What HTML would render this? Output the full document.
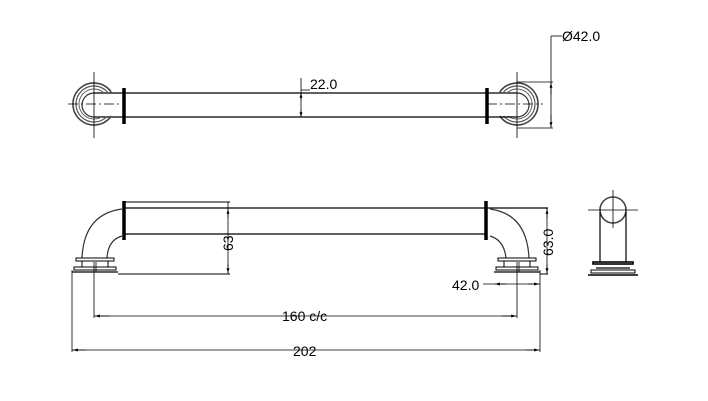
<!DOCTYPE html>
<html><head><style>body{margin:0;background:#fff}svg{display:block}text{font-family:"Liberation Sans",sans-serif;font-size:14px;fill:#000}</style></head>
<body>
<svg width="708" height="401" viewBox="0 0 708 401" xmlns="http://www.w3.org/2000/svg">
<defs><marker id="a" viewBox="0 0 10 10" refX="10" refY="5" markerWidth="8" markerHeight="6" orient="auto-start-reverse"><path d="M0,2 L10,5 L0,8z" fill="#000"/></marker></defs>
<g stroke="#000" fill="none" stroke-width="1.2">
<!-- TOP VIEW -->
<line x1="94" y1="93" x2="487" y2="93"/><line x1="94" y1="117" x2="487" y2="117"/>
<line x1="124" y1="88" x2="124" y2="124" stroke-width="3.5"/>
<line x1="487" y1="88" x2="487" y2="124" stroke-width="3.5"/>
<path d="M111.2,92 A21,21 0 1 0 111.2,116" stroke="#444" stroke-width="1.6"/>
<path d="M107.4,92 A18,18 0 1 0 107.4,116" stroke="#555"/>
<path d="M103,92 A15,15 0 1 0 103,116" stroke="#555" stroke-width="0.9"/>
<path d="M94,93 A11,11 0 0 0 94,117" stroke="#333"/>
<line x1="94" y1="72" x2="94" y2="138" stroke-width="0.8"/><line x1="68" y1="104" x2="124" y2="104" stroke-width="0.8" stroke-dasharray="10,3,2,3"/>
<path d="M499.8,92 A21,21 0 1 1 499.8,116" stroke="#444" stroke-width="1.6"/>
<path d="M503.6,92 A18,18 0 1 1 503.6,116" stroke="#555"/>
<path d="M508,92 A15,15 0 1 1 508,116" stroke="#555" stroke-width="0.9"/>
<path d="M517,93 A11,11 0 0 1 517,117" stroke="#333"/>
<line x1="487" y1="93" x2="517" y2="93"/><line x1="487" y1="117" x2="517" y2="117"/>
<line x1="517" y1="72" x2="517" y2="138" stroke-width="0.8"/><line x1="487" y1="104" x2="543" y2="104" stroke-width="0.8" stroke-dasharray="10,3,2,3"/>
<line x1="517" y1="82" x2="553" y2="82" stroke-width="0.8"/><line x1="517" y1="128" x2="553" y2="128" stroke-width="0.8"/>
<line x1="551" y1="36" x2="551" y2="128" stroke-width="0.8"/><line x1="551" y1="36" x2="562" y2="36" stroke-width="0.8"/>
<line x1="551" y1="95" x2="551" y2="83" stroke-width="0.8" marker-end="url(#a)"/><line x1="551" y1="115" x2="551" y2="127" stroke-width="0.8" marker-end="url(#a)"/>
<line x1="301" y1="78" x2="301" y2="117" stroke-width="0.8"/><line x1="301" y1="90" x2="310" y2="90" stroke-width="0.8"/>
<line x1="301" y1="100" x2="301" y2="93" marker-end="url(#a)" stroke-width="0.8"/><line x1="301" y1="110" x2="301" y2="117" marker-end="url(#a)" stroke-width="0.8"/>
<!-- FRONT VIEW -->
<line x1="124" y1="202" x2="230" y2="202" stroke-width="1"/>
<line x1="124" y1="208" x2="548" y2="208"/><line x1="124" y1="234" x2="487" y2="234"/>
<line x1="124" y1="201" x2="124" y2="240" stroke-width="3.5"/><line x1="486" y1="201" x2="486" y2="240" stroke-width="3.5"/>
<path d="M122,209 Q84,214 82,258" stroke="#333"/><path d="M122,236 Q108,240 107,258" stroke="#333"/>
<path d="M490,209 Q527,214 529,258" stroke="#333"/><path d="M490,236 Q504,240 506,258" stroke="#333"/>
<rect x="76" y="258" width="38" height="3" stroke-width="1"/><rect x="82" y="261" width="26" height="6" stroke-width="1"/><rect x="74" y="267" width="42" height="3" stroke-width="1"/><line x1="72" y1="272" x2="118" y2="272"/>
<rect x="498" y="258" width="38" height="3" stroke-width="1"/><rect x="504" y="261" width="26" height="6" stroke-width="1"/><rect x="496" y="267" width="42" height="3" stroke-width="1"/><line x1="494" y1="272" x2="540" y2="272"/>
<line x1="118" y1="274" x2="230" y2="274" stroke-width="1"/><line x1="540" y1="274" x2="548" y2="274" stroke-width="1"/>
<line x1="228" y1="202" x2="228" y2="274" stroke-width="0.8"/>
<line x1="228" y1="218" x2="228" y2="209" marker-end="url(#a)" stroke-width="0.8"/><line x1="228" y1="264" x2="228" y2="273" marker-end="url(#a)" stroke-width="0.8"/>
<line x1="547" y1="208" x2="547" y2="274" stroke-width="0.8"/>
<line x1="547" y1="218" x2="547" y2="209" marker-end="url(#a)" stroke-width="0.8"/><line x1="547" y1="264" x2="547" y2="273" marker-end="url(#a)" stroke-width="0.8"/>
<line x1="72" y1="270" x2="72" y2="352" stroke-width="0.8"/><line x1="94" y1="262" x2="94" y2="318" stroke-width="0.8"/>
<line x1="517" y1="262" x2="517" y2="318" stroke-width="0.8"/><line x1="540" y1="270" x2="540" y2="352" stroke-width="0.8"/>
<line x1="96" y1="262" x2="96" y2="272" stroke-width="0.8"/><line x1="519" y1="262" x2="519" y2="272" stroke-width="0.8"/>
<line x1="483" y1="284" x2="540" y2="284" stroke-width="0.8"/>
<line x1="506" y1="284" x2="495" y2="284" marker-end="url(#a)" stroke-width="0.8"/><line x1="528" y1="284" x2="539" y2="284" marker-end="url(#a)" stroke-width="0.8"/>
<line x1="94" y1="316" x2="517" y2="316" stroke-width="0.8"/>
<line x1="110" y1="316" x2="95" y2="316" marker-end="url(#a)" stroke-width="0.8"/><line x1="502" y1="316" x2="516" y2="316" marker-end="url(#a)" stroke-width="0.8"/>
<line x1="72" y1="350" x2="540" y2="350" stroke-width="0.8"/>
<line x1="86" y1="350" x2="73" y2="350" marker-end="url(#a)" stroke-width="0.8"/><line x1="526" y1="350" x2="539" y2="350" marker-end="url(#a)" stroke-width="0.8"/>
<!-- SIDE VIEW -->
<circle cx="613" cy="210" r="13" stroke="#444" stroke-width="1.6"/>
<line x1="613" y1="190" x2="613" y2="228" stroke-width="0.8"/><line x1="588" y1="210" x2="638" y2="210" stroke-width="0.8"/>
<line x1="600" y1="212" x2="600" y2="262"/><line x1="626" y1="212" x2="626" y2="262"/>
<rect x="593" y="262" width="40" height="2" stroke-width="1.6"/><line x1="596" y1="268" x2="630" y2="268"/>
<rect x="591" y="270" width="44" height="3" stroke-width="1"/><line x1="588" y1="275" x2="638" y2="275" stroke-width="1.5"/>
</g>
<text x="310" y="89">22.0</text>
<text x="562" y="41">Ø42.0</text>
<text x="452" y="290">42.0</text>
<text x="282" y="321">160 c/c</text>
<text x="293" y="356">202</text>
<text transform="translate(233,251) rotate(-90)" font-size="15">63</text>
<text transform="translate(553,256) rotate(-90)" font-size="15">63.0</text>
</svg>
</body></html>
